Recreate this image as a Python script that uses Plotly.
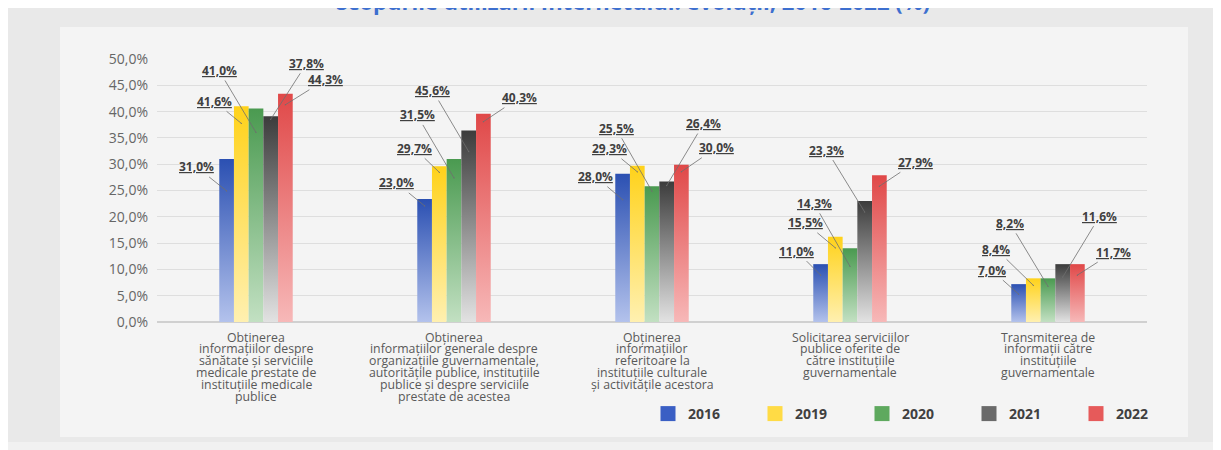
import plotly.graph_objects as go

CATEGORIES = [
    "Obținerea<br>informațiilor despre<br>sănătate și serviciile<br>medicale prestate de<br>instituțiile medicale<br>publice",
    "Obținerea<br>informațiilor generale despre<br>organizațiile guvernamentale,<br>autoritățile publice, instituțiile<br>publice și despre serviciile<br>prestate de acestea",
    "Obținerea<br>informațiilor<br>referitoare la<br>instituțiile culturale<br>și activitățile acestora",
    "Solicitarea serviciilor<br>publice oferite de<br>către instituțiile<br>guvernamentale",
    "Transmiterea de<br>informații către<br>instituțiile<br>guvernamentale",
]
YEARS = ["2016", "2019", "2020", "2021", "2022"]

# bar heights (%) as drawn
SHARE_2016 = [31.0, 23.4, 28.2, 11.0, 7.2]
SHARE_2019 = [41.0, 29.6, 29.7, 16.2, 8.3]
SHARE_2020 = [40.6, 31.0, 25.8, 14.0, 8.3]
SHARE_2021 = [39.1, 36.4, 26.7, 23.0, 11.0]
SHARE_2022 = [43.4, 39.6, 29.9, 27.9, 11.0]

# data labels as printed on the chart
LABEL_2016 = ["31,0%", "23,0%", "28,0%", "11,0%", "7,0%"]
LABEL_2019 = ["41,6%", "29,7%", "29,3%", "15,5%", "8,4%"]
LABEL_2020 = ["41,0%", "31,5%", "25,5%", "14,3%", "8,2%"]
LABEL_2021 = ["37,8%", "45,6%", "26,4%", "23,3%", "11,6%"]
LABEL_2022 = ["44,3%", "40,3%", "30,0%", "27,9%", "11,7%"]

SERIES = [SHARE_2016, SHARE_2019, SHARE_2020, SHARE_2021, SHARE_2022]
LABELS = [LABEL_2016, LABEL_2019, LABEL_2020, LABEL_2021, LABEL_2022]

TOP_COLORS = ["#2b50b2", "#ffd21a", "#4a9a50", "#3c3c3c", "#e04848"]
BOTTOM_COLORS = ["#b3c2ec", "#fff0b0", "#c2e0c2", "#e2e2e2", "#f7b8b8"]
LEGEND_COLORS = ["#3a5fc4", "#ffdb45", "#5ea95e", "#6a6a6a", "#e65a5a"]

BAR_W = 0.0742
PLOT_H = 263
PX_PER_UNIT = PLOT_H / 50
LINE_H = 11.9

# leader lines: (dot depth below bar top px, text dx px, text dy px), per year / group
LEADERS = [
    [(32, -30, -24), (7, -28, -23), (26, -27, -23), (11, -24, -24), (10, -27, -24)],
    [(17, -27, -22), (6, -25, -24), (6, -28, -23), (11, -30, -25), (7, -37, -36)],
    [(24, -37, -62), (19, -37, -63), (5, -36, -63), (18, -36, -63), (8, -38, -63)],
    [(3, 36, -56), (21, -36, -61), (4, 37, -62), (11, -38, -62), (13, 37, -61)],
    [(11, 40, -25), (8, 36, -24), (7, 35, -24), (11, 36, -24), (11, 36, -23)],
]

fig = go.Figure()

for i, (year, vals) in enumerate(zip(YEARS, SERIES)):
    off = (i - 2) * BAR_W
    for k, v in enumerate(vals):
        x0, x1 = k + off - BAR_W / 2, k + off + BAR_W / 2
        fig.add_trace(
            go.Scatter(
                x=[x0, x1, x1, x0, x0],
                y=[0, 0, v, v, 0],
                mode="lines",
                fill="toself",
                line=dict(width=0),
                fillcolor=TOP_COLORS[i],
                fillgradient=dict(
                    type="vertical",
                    colorscale=[[0, BOTTOM_COLORS[i]], [1, TOP_COLORS[i]]],
                ),
                showlegend=False,
                hoverinfo="skip",
            )
        )
        drop, dx, dy = LEADERS[i][k]
        fig.add_annotation(
            x=k + off,
            y=v - drop / PX_PER_UNIT,
            ax=dx,
            ay=dy,
            text="<u>" + LABELS[i][k] + "</u>",
            showarrow=True,
            arrowhead=6,
            arrowsize=0.4,
            arrowwidth=0.8,
            arrowcolor="#6f6f6f",
            font=dict(family="Open Sans", size=12, color="#404040", weight="bold"),
        )

for i, year in enumerate(YEARS):
    fig.add_trace(
        go.Scatter(
            x=[None],
            y=[None],
            mode="markers",
            name=year,
            marker=dict(symbol="square", size=15, color=LEGEND_COLORS[i]),
        )
    )

# category labels, one annotation per line for tight line spacing
for k, cat in enumerate(CATEGORIES):
    for j, line in enumerate(cat.split("<br>")):
        fig.add_annotation(
            x=k,
            xref="x",
            y=-(15 + LINE_H * j) / PLOT_H,
            yref="paper",
            text=line,
            showarrow=False,
            xanchor="center",
            yanchor="middle",
            borderpad=0,
            font=dict(family="Open Sans", size=12.3, color="#595959"),
        )

# title (cut at the top edge, as in the source image)
fig.add_annotation(
    x=(633 - 157) / 990,
    xref="paper",
    y=(322 - 18) / PLOT_H,
    yref="paper",
    text="Scopurile utilizării Internetului: evoluții, 2016-2022 (%)",
    showarrow=False,
    xanchor="center",
    yanchor="bottom",
    font=dict(family="Open Sans", size=22, color="#3d6fcf", weight="bold"),
)

# background frame + inner panel
fig.add_shape(type="rect", xref="paper", yref="paper",
              x0=(7 - 157) / 990, x1=(1230 - 157) / 990,
              y0=(322 - 442) / PLOT_H, y1=(322 + 5) / PLOT_H + 1,
              fillcolor="#e9e9e9", line_width=0, layer="below")
fig.add_shape(type="rect", xref="paper", yref="paper",
              x0=(60 - 157) / 990, x1=(1188 - 157) / 990,
              y0=(322 - 437) / PLOT_H, y1=(322 - 27) / PLOT_H,
              fillcolor="#f4f4f4", line_width=0, layer="below")

fig.update_layout(
    width=1221,
    height=450,
    separators=", ",
    paper_bgcolor="#f1f1f1",
    plot_bgcolor="rgba(0,0,0,0)",
    margin=dict(l=149, r=82, t=51, b=136, autoexpand=False),
    font=dict(family="Open Sans", color="#595959"),
    xaxis=dict(
        range=[-0.5, 4.5],
        tickvals=list(range(len(CATEGORIES))),
        showticklabels=False,
        showgrid=False,
        zeroline=False,
        showline=False,
        fixedrange=True,
    ),
    yaxis=dict(
        range=[0, 50],
        dtick=5,
        tickformat=".1f",
        ticksuffix="%",
        tickfont=dict(size=14, color="#666666"),
        gridcolor="#dedede",
        gridwidth=1,
        zeroline=True,
        zerolinecolor="#d0d0d0",
        ticklabelstandoff=8,
        fixedrange=True,
    ),
    legend=dict(
        orientation="h",
        x=(648 - 157) / 990,
        xanchor="left",
        y=(322 - 414) / PLOT_H,
        yanchor="middle",
        entrywidth=62,
        font=dict(size=14, color="#404040", weight="bold"),
        bgcolor="rgba(0,0,0,0)",
    ),
)

fig.write_html("out.html")
